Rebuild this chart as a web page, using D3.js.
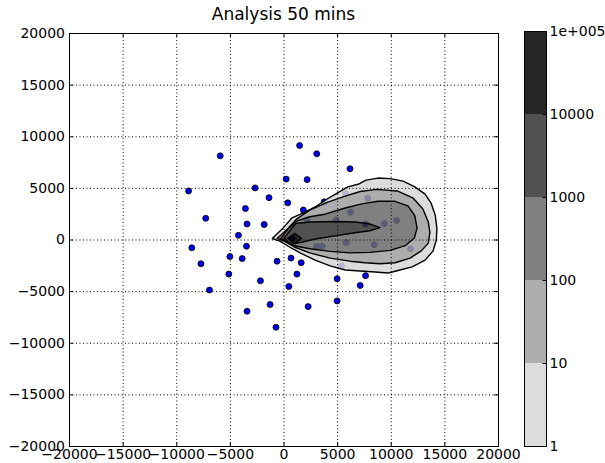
<!DOCTYPE html>
<html>
<head>
<meta charset="utf-8">
<script src="https://cdn.jsdelivr.net/npm/d3@7"></script>
<style>
  body { margin: 0; background: #fff; }
  svg { font-family: 'DejaVu Sans', sans-serif; }
</style>
</head>
<body>
<svg id="chart" width="605" height="463"></svg>
<script>
// ticks used on both axes
const axisTicks = [-20000, -15000, -10000, -5000, 0, 5000, 10000, 15000, 20000];

// contour levels and the text printed next to them on the colorbar
const levels = [1, 10, 100, 1000, 10000, 100000];
const levelLabels = ['1', '10', '100', '1000', '10000', '1e+005'];
const bandColors = ['#d6d6d6', '#9f9f9f', '#6a6a6a', '#333333', '#000000'];

// filled contour outlines [x, y], one per level, outermost first
const contour1 = [[-1050,100],[-50,1100],[800,2100],[1800,2550],[2950,3150],[3950,3850],[5000,4500],[6000,5100],[6950,5350],[7700,5750],[8800,5950],[9950,5900],[11150,5650],[12250,5100],[13200,4400],[13750,3550],[14150,2350],[14300,1100],[14250,-50],[13950,-1100],[13200,-2000],[12000,-2650],[10500,-3050],[9750,-3250],[8550,-3150],[7150,-3050],[5750,-2950],[4350,-2550],[2950,-2000],[1550,-1300],[600,-750],[-350,-150]];
const contour10 = [[-600,100],[350,1000],[1250,2000],[2450,2850],[3950,3550],[5750,4200],[7150,4650],[8700,4850],[10600,4700],[12100,4000],[13000,2950],[13500,1700],[13650,700],[13500,-350],[12850,-1100],[11800,-1800],[10400,-2250],[9000,-2350],[7600,-2250],[6200,-2100],[4350,-1800],[2450,-1300],[1050,-750],[150,-200]];
const contour100 = [[-250,100],[500,1100],[1250,1800],[2450,2200],[3850,2450],[5750,3050],[7300,3450],[8800,3700],[10400,3700],[11600,3250],[12250,2300],[12450,1100],[12200,150],[11350,-600],[9950,-1050],[8050,-1250],[6200,-1300],[4350,-1150],[2450,-900],[1000,-600],[250,-200]];
const contour1000 = [[50,100],[700,1000],[1150,1550],[2450,1700],[4800,1750],[6650,1700],[7900,1550],[9000,1150],[8050,850],[6650,650],[4800,350],[2950,50],[1550,-300],[800,-460],[400,-200]];
const contour10000 = [[400,100],[1050,580],[1700,100],[1050,-380]];

// scattered stations [x, y]
const stations = [[1500,9100],[3100,8300],[-5900,8100],[6200,6850],[250,5850],[2200,5800],[-8850,4700],[-2650,5000],[-1350,4050],[400,3550],[-3550,3000],[1850,2850],[-7250,2050],[-3400,1500],[-1800,1450],[-4200,400],[-8550,-800],[-3450,-650],[-5000,-1650],[-3850,-1850],[-600,-2100],[700,-1800],[1650,-2250],[-7700,-2350],[-5100,-3350],[1250,-3350],[-2150,-4000],[5000,-3800],[7650,-3500],[7150,-4450],[500,-4550],[-6900,-4900],[5000,-5950],[-1250,-6300],[2300,-6500],[-3400,-6950],[-700,-8500],
  [5800,4450],[7850,4000],[3800,3650],[6250,2650],[10550,1850],[9400,1550],[7650,1500],[4900,1900],[2150,1900],[3600,-650],[3100,-650],[5850,-300],[8450,-500],[11850,-900],[5400,-2550],[800,100]];
const source = [[-100,100]];

const contours = [contour1, contour10, contour100, contour1000, contour10000];

const plot = {left: 69, right: 498, top: 33, bottom: 446};
const cbar = {left: 524, right: 546, top: 31, bottom: 446};
const contourAlpha = 0.85;

const svg = d3.select('#chart');

const x = d3.scaleLinear().domain([-20000, 20000]).range([plot.left, plot.right]);
const y = d3.scaleLinear().domain([-20000, 20000]).range([plot.bottom, plot.top]);
const fmt = d3.format('d');

const line = d3.line().x(d => x(d[0])).y(d => y(d[1])).curve(d3.curveLinearClosed);

// points go underneath, the semi-transparent contour fill covers them
svg.selectAll('.station')
    .data(stations)
    .enter().append('circle')
    .attr('class', 'station')
    .attr('cx', d => x(d[0]))
    .attr('cy', d => y(d[1]))
    .attr('r', 3)
    .attr('fill', '#0000e6')
    .attr('stroke', '#000')
    .attr('stroke-width', 0.8);

svg.selectAll('.source')
    .data(source)
    .enter().append('circle')
    .attr('cx', d => x(d[0]))
    .attr('cy', d => y(d[1]))
    .attr('r', 3)
    .attr('fill', '#ff0000')
    .attr('stroke', '#000')
    .attr('stroke-width', 0.8);

const fills = svg.append('g').attr('opacity', contourAlpha);
fills.selectAll('path')
    .data(contours)
    .enter().append('path')
    .attr('d', d => line(d))
    .attr('fill', (d, i) => bandColors[i]);

svg.append('g').selectAll('path')
    .data(contours)
    .enter().append('path')
    .attr('d', d => line(d))
    .attr('fill', 'none')
    .attr('stroke', '#000')
    .attr('stroke-width', 1.4)
    .attr('stroke-linejoin', 'round');

// dotted grid drawn over the data
const grid = svg.append('g')
    .attr('stroke', '#000')
    .attr('stroke-width', 1)
    .attr('stroke-dasharray', '1,2.5');
grid.selectAll('.gx')
    .data(axisTicks.slice(1, -1))
    .enter().append('line')
    .attr('x1', d => x(d) + 0.5).attr('x2', d => x(d) + 0.5)
    .attr('y1', plot.top).attr('y2', plot.bottom);
grid.selectAll('.gy')
    .data(axisTicks.slice(1, -1))
    .enter().append('line')
    .attr('y1', d => y(d) + 0.5).attr('y2', d => y(d) + 0.5)
    .attr('x1', plot.left).attr('x2', plot.right);

// axes with inward ticks on all four sides
svg.append('g')
    .attr('transform', `translate(0,${plot.bottom})`)
    .call(d3.axisBottom(x).tickValues(axisTicks).tickSize(-4).tickPadding(3).tickFormat(fmt));
svg.append('g')
    .attr('transform', `translate(0,${plot.top})`)
    .call(d3.axisTop(x).tickValues(axisTicks).tickSize(-4).tickFormat(''));
svg.append('g')
    .attr('transform', `translate(${plot.left},0)`)
    .call(d3.axisLeft(y).tickValues(axisTicks).tickSize(-4).tickPadding(4).tickFormat(fmt));
svg.append('g')
    .attr('transform', `translate(${plot.right},0)`)
    .call(d3.axisRight(y).tickValues(axisTicks).tickSize(-4).tickFormat(''));

svg.selectAll('.domain').attr('stroke', '#000');
svg.selectAll('.tick line').attr('stroke', '#000');
svg.selectAll('.tick text')
    .attr('fill', '#000')
    .style('font-size', '14px')
    .style('font-family', "'DejaVu Sans', sans-serif");

svg.append('text')
    .attr('x', (plot.left + plot.right) / 2)
    .attr('y', 20)
    .attr('text-anchor', 'middle')
    .style('font-size', '17px')
    .text('Analysis 50 mins');

// colorbar
const c = d3.scaleLog().domain([1, 100000]).range([cbar.bottom, cbar.top]);
const bands = d3.range(levels.length - 1).map(i => ({lo: levels[i], hi: levels[i + 1], color: bandColors[i]}));

svg.append('g').attr('opacity', contourAlpha)
    .selectAll('rect')
    .data(bands)
    .enter().append('rect')
    .attr('x', cbar.left)
    .attr('width', cbar.right - cbar.left)
    .attr('y', d => c(d.hi))
    .attr('height', d => c(d.lo) - c(d.hi))
    .attr('fill', d => d.color);

svg.append('rect')
    .attr('x', cbar.left + 0.5)
    .attr('y', cbar.top + 0.5)
    .attr('width', cbar.right - cbar.left)
    .attr('height', cbar.bottom - cbar.top)
    .attr('fill', 'none')
    .attr('stroke', '#000');

svg.append('g')
    .attr('transform', `translate(${cbar.right + 0.5},0)`)
    .call(d3.axisRight(c).tickValues(levels).tickSize(-4).tickPadding(3).tickFormat((d, i) => levelLabels[i]))
    .call(g => g.select('.domain').remove())
    .call(g => g.selectAll('line').attr('stroke', '#000'))
    .call(g => g.selectAll('text')
        .attr('fill', '#000')
        .style('font-size', '14px')
        .style('font-family', "'DejaVu Sans', sans-serif"));
</script>
</body>
</html>
